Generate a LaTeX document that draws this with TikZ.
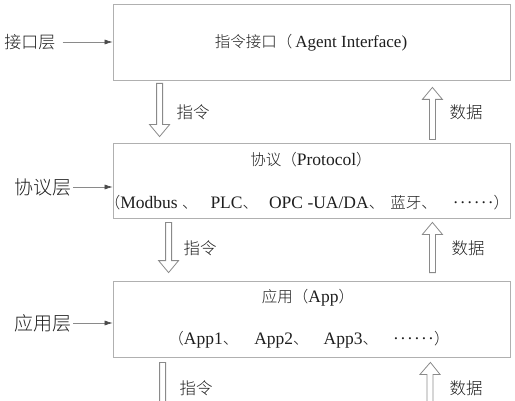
\documentclass[tikz,border=0pt]{standalone}
\usepackage{fontspec}
\setmainfont{Liberation Serif}
\newfontfamily\cjk{Noto Sans CJK SC}[UprightFont={* Light}]
\usepackage{tikz}
\usetikzlibrary{positioning, calc, arrows.meta}

\definecolor{boxgray}{HTML}{B0B0B0}
\definecolor{arrgray}{HTML}{8A8A8A}
\definecolor{txtgray}{HTML}{1E1E1E}

\newcommand{\zh}[1]{{\cjk\fontsize{15.5}{18}\selectfont #1}}
\newcommand{\middots}{·\kern1.2pt·\kern1.2pt·\kern1.2pt·\kern1.2pt·\kern1.2pt·}

\tikzset{
  layerbox/.style={draw=boxgray, line width=0.8pt, minimum width=397pt, minimum height=76pt, inner sep=0pt, text=txtgray, font=\fontsize{17}{19}\selectfont},
  boxtext/.style={inner sep=0pt, text=txtgray, font=\fontsize{17.5}{20}\selectfont},
  layerlabel/.style={inner sep=0pt, text=txtgray, font=\cjk\fontsize{19}{22}\selectfont},
  flowlabel/.style={inner sep=0pt, text=txtgray, font=\cjk\fontsize{16.5}{19}\selectfont},
  pointer/.style={draw=arrgray, line width=0.6pt, -{Latex[length=8pt, width=5pt, color=txtgray!80]}},
  hollow/.style={draw=arrgray, line width=0.8pt,
    to path={let \p1=(\tikztostart), \p2=(\tikztotarget), \p3=($(\p2)!12pt!(\p1)$) in
      (\x1-3pt,\y1) -- (\x1-3pt,\y3) -- (\x1-10pt,\y3) -- (\x2,\y2) -- (\x1+10pt,\y3) -- (\x1+3pt,\y3) -- (\x1+3pt,\y1) -- cycle}},
}

\begin{document}
\begin{tikzpicture}[x=1pt, y=1pt]
    \useasboundingbox (0,0) rectangle (515,400);
    \clip (0,0) rectangle (515,400);

    % Layer boxes
    \node[layerbox] (iface) at (311.5,358) {};
    \node[layerbox, minimum height=75pt] (proto) at (311.5,219.5) {};
    \node[layerbox] (app) at (311.5,81) {};

    % Box contents
    \node[layerbox, draw=none, minimum size=0pt] (ifaceTitle) at (311,357) {\zh{指令接口（}\hspace{3pt}Agent Interface)};
    \node[boxtext] (protoTitle) at (311,240) {\zh{协议（}Protocol\zh{）}};
    \node[boxtext] (protoList) at (307,197) {\zh{（}Modbus \zh{、}\hspace{13pt}PLC\zh{、}\hspace{11pt}OPC -UA/DA\zh{、}\hspace{6pt}\zh{蓝牙、}\hspace{16pt}\middots\zh{）}};
    \node[boxtext] (appTitle) at (308,102) {\zh{应用（}App\zh{）}};
    \node[boxtext] (appList) at (309,60) {\zh{（}App1\zh{、}\hspace{16pt}App2\zh{、}\hspace{15pt}App3\zh{、}\hspace{15pt}\middots\zh{）}};

    % Layer names
    \node[layerlabel, font=\cjk\fontsize{17}{20}\selectfont] (lblIface) at (30,358) {接口层};
    \node[layerlabel] (lblProto) at (43.5,213) {协议层};
    \node[layerlabel] (lblApp) at (43.5,77) {应用层};

    \draw[pointer] ([xshift=7pt]lblIface.east) -- (lblIface -| iface.west);
    \draw[pointer] ([xshift=1pt]lblProto.east) -- (lblProto -| proto.west);
    \draw[pointer] ([xshift=1pt]lblApp.east) -- (lblApp -| app.west);

    % Command and data flow
    \coordinate (cmdEnd) at (163,-20);
    \coordinate (dataStart) at (430,-20);

    \draw[hollow] ([xshift=47pt, yshift=-3pt]iface.south west) to ([xshift=47pt, yshift=6pt]proto.north west);
    \draw[hollow] ([xshift=-78pt, yshift=3pt]proto.north east) to ([xshift=-78pt, yshift=-7pt]iface.south east);
    \draw[hollow] ([xshift=56pt, yshift=-4pt]proto.south west) to ([xshift=56pt, yshift=8pt]app.north west);
    \draw[hollow] ([xshift=-78pt, yshift=8pt]app.north east) to ([xshift=-78pt, yshift=-4pt]proto.south east);
    \draw[hollow] ([xshift=50pt, yshift=-5pt]app.south west) to (cmdEnd);
    \draw[hollow] (dataStart) to ([xshift=-80pt, yshift=-5pt]app.south east);

    \node[flowlabel] (cmd1) at (193,288) {指令};
    \node[flowlabel] (data1) at (466,288) {数据};
    \node[flowlabel] (cmd2) at (200,152) {指令};
    \node[flowlabel] (data2) at (468,152) {数据};
    \node[flowlabel] (cmd3) at (196,12) {指令};
    \node[flowlabel] (data3) at (466,12) {数据};
\end{tikzpicture}
\end{document}
